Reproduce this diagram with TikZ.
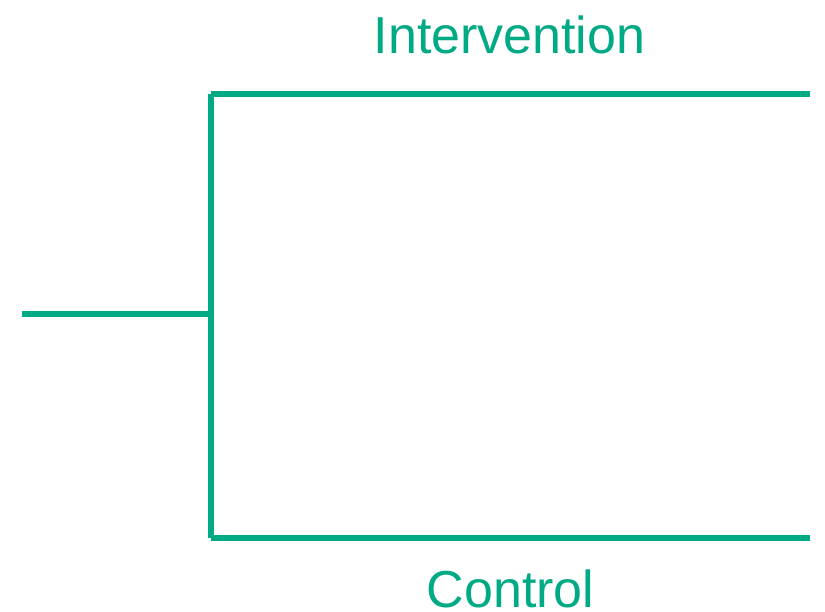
\documentclass[tikz,border=0pt]{standalone}
\usepackage{fontspec}
\setmainfont{Liberation Sans}
\definecolor{teal1}{RGB}{0,170,132}
\begin{document}
\begin{tikzpicture}[x=1pt,y=-1pt,
  arm/.style={draw=teal1,line width=6pt},
  lbl/.style={text=teal1,font=\fontsize{52}{60}\selectfont,inner sep=0pt,anchor=base}]
\useasboundingbox (0,0) rectangle (825,611);
\coordinate (in) at (22,314);
\coordinate (j) at (211,314);
\coordinate (t) at (211,94);
\coordinate (b) at (211,538);
\coordinate (te) at (810,94);
\coordinate (be) at (810,538);
\draw[arm] (in) -- (j);
\draw[arm] (t) -- (b);
\draw[arm] (t) -- (te);
\draw[arm] (b) -- (be);
\node[lbl] (int) at (509.5,53) {Intervention};
\node[lbl] (ctl) at (510.5,607) {Control};
\end{tikzpicture}
\end{document}
